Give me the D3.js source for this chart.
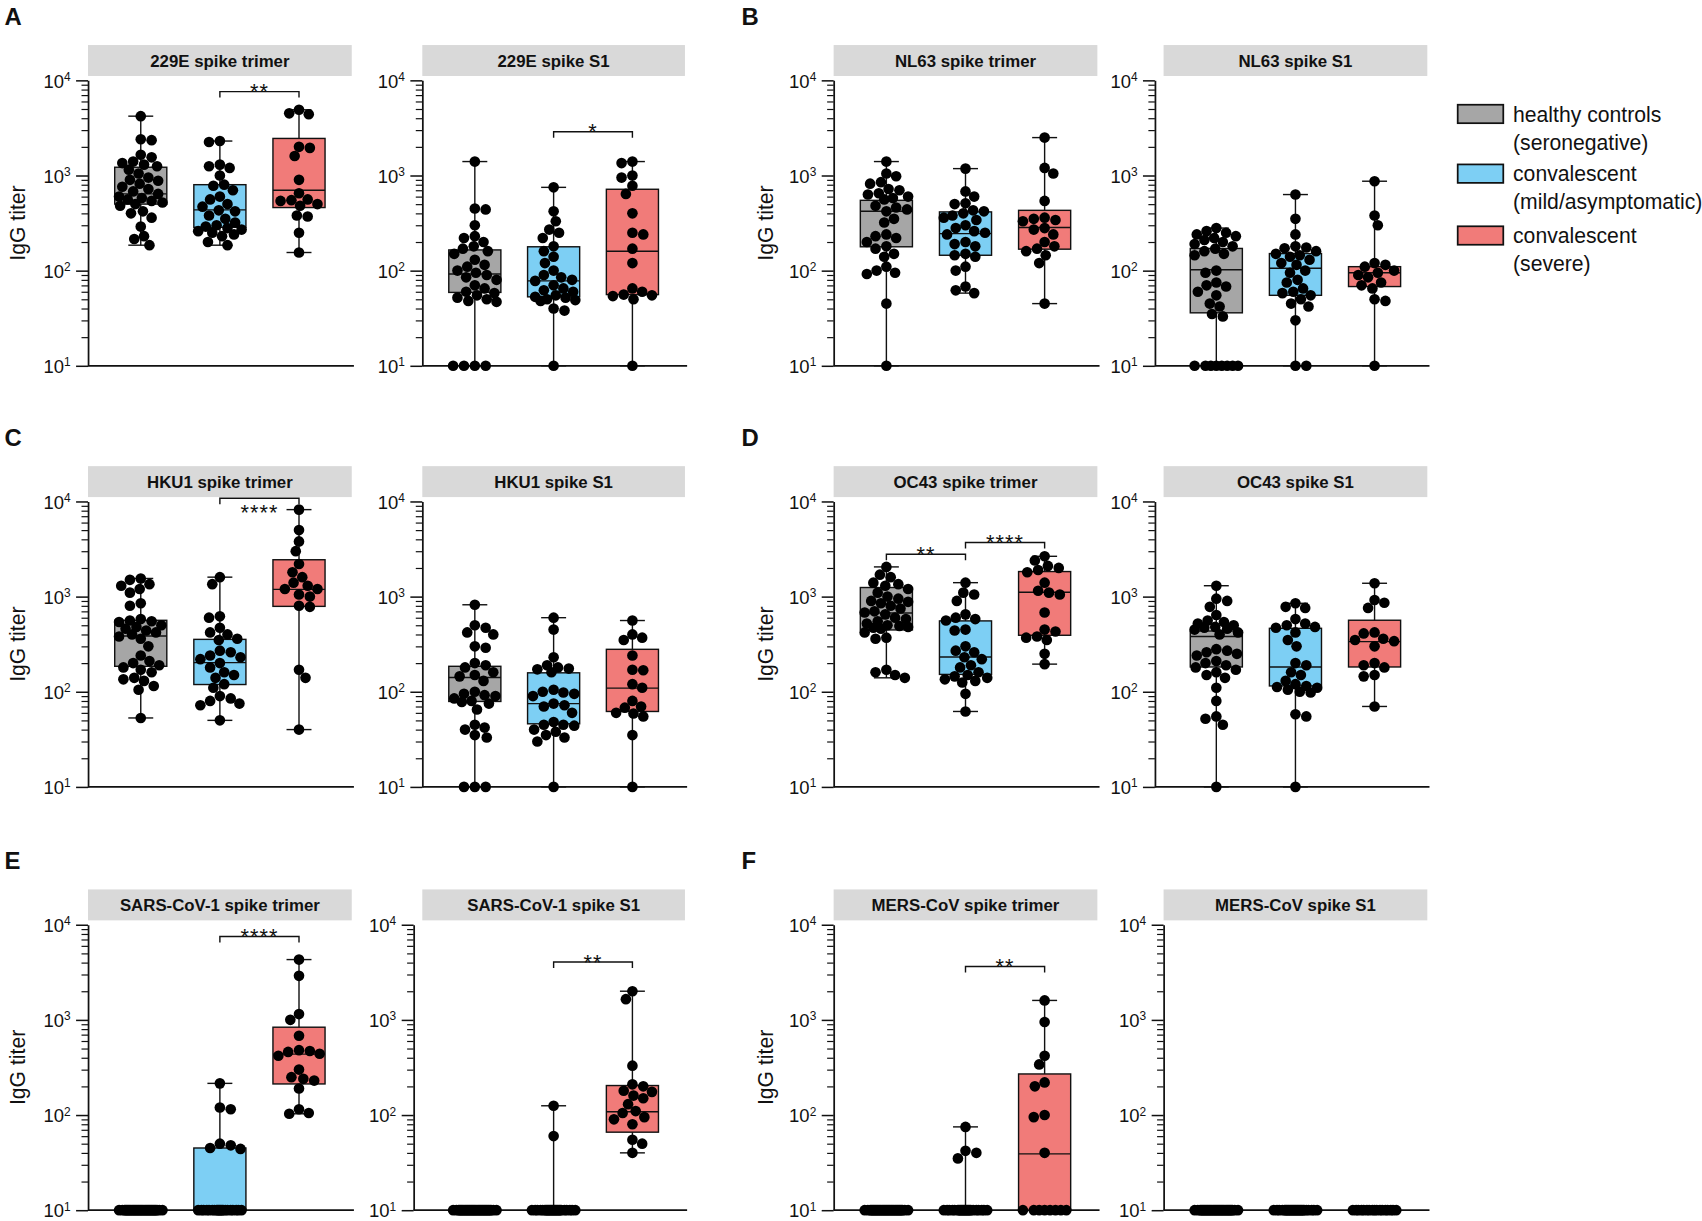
<!DOCTYPE html>
<html>
<head>
<meta charset="utf-8">
<script src="https://cdn.jsdelivr.net/npm/d3@7"></script>
<style>
  body { margin: 0; background: #fff; }
  svg { display: block; }
  text { font-family: "Liberation Sans", Arial, Helvetica, sans-serif; fill: #111; }
</style>
</head>
<body>
<div id="chart"></div>
<script>
// groups and legend
const groups = ["healthy", "mild", "severe"]
const legendLines = [["healthy controls", "(seronegative)"], ["convalescent", "(mild/asymptomatic)"], ["convalescent", "(severe)"]]
const groupColors = ["#a6a6a6", "#7dcff4", "#f17b79"]
const yTicks = [10, 100, 1000, 10000]
const yMinorTicks = [20, 30, 40, 50, 60, 70, 80, 90, 200, 300, 400, 500, 600, 700, 800, 900,
  2000, 3000, 4000, 5000, 6000, 7000, 8000, 9000]

// IgG titers per group: [healthy, mild, severe]; box = [q1, median, q3]
const trimer229E = [
  [4200, 2400, 2350, 1650, 1550, 1400, 1350, 1300, 1250, 1150, 1050, 950, 900, 880, 820, 760, 720, 680, 640, 600, 580, 560, 540, 520, 500, 480, 420, 400, 360, 290, 230, 215, 185],
  [2300, 2250, 1300, 1250, 1200, 1000, 800, 780, 700, 600, 560, 500, 470, 430, 420, 380, 350, 320, 300, 290, 280, 270, 260, 250, 240, 230, 200, 185],
  [4900, 4500, 4400, 2000, 1950, 1600, 900, 650, 560, 550, 540, 500, 480, 380, 370, 250, 155]
]
const trimer229EBox = [[500, 640, 1220], [285, 435, 800], [460, 700, 2450]]
const trimer229ESig = [[1, 2, 7600, "**"]]

const s1229E = [
  [1400, 450, 440, 300, 230, 220, 200, 180, 170, 160, 150, 130, 115, 110, 100, 95, 90, 85, 80, 70, 65, 60, 58, 55, 52, 50, 48, 47, 10, 10, 10, 10],
  [750, 420, 330, 270, 250, 220, 180, 160, 140, 120, 100, 90, 85, 80, 78, 70, 65, 62, 60, 55, 53, 52, 50, 49, 48, 40, 38, 10],
  [1400, 1350, 1000, 950, 780, 640, 400, 250, 240, 170, 120, 65, 60, 56, 55, 54, 50, 10]
]
const s1229EBox = [[59, 92, 165], [53, 78, 178], [56, 160, 716]]
const s1229ESig = [[1, 2, 2880, "*"]]

const trimerNL63 = [
  [1400, 1050, 980, 850, 820, 720, 700, 650, 630, 600, 580, 560, 480, 460, 440, 420, 350, 320, 240, 230, 220, 200, 180, 170, 150, 140, 110, 100, 95, 92, 45, 10],
  [1180, 680, 600, 510, 500, 430, 420, 400, 380, 360, 340, 300, 280, 260, 250, 240, 200, 190, 180, 150, 145, 140, 110, 100, 68, 62, 58],
  [2500, 1200, 1050, 540, 360, 350, 340, 330, 280, 270, 240, 200, 180, 170, 160, 145, 120, 45]
]
const trimerNL63Box = [[178, 421, 548], [145, 245, 414], [168, 284, 430]]

const s1NL63 = [
  [280, 260, 250, 240, 230, 220, 210, 200, 190, 180, 170, 160, 150, 145, 100, 95, 75, 70, 68, 60, 55, 45, 42, 35, 33, 10, 10, 10, 10, 10, 10, 10, 10],
  [630, 350, 240, 180, 175, 172, 160, 150, 145, 140, 130, 120, 115, 100, 95, 80, 75, 65, 60, 58, 55, 50, 45, 42, 30, 10, 10],
  [870, 380, 300, 120, 115, 110, 100, 95, 90, 85, 75, 70, 65, 50, 48, 10]
]
const s1NL63Box = [[36, 102, 171], [55, 106, 151], [68, 95, 110]]

const trimerHKU1 = [
  [1550, 1500, 1350, 1300, 1200, 1100, 850, 800, 580, 560, 550, 540, 500, 480, 460, 440, 420, 400, 380, 360, 300, 240, 210, 200, 190, 180, 170, 160, 140, 135, 130, 115, 105, 53],
  [1600, 1350, 620, 600, 470, 420, 400, 360, 350, 270, 260, 240, 230, 220, 200, 180, 160, 150, 140, 120, 110, 90, 85, 80, 75, 72, 50],
  [8200, 5000, 3800, 3000, 2200, 1800, 1600, 1400, 1300, 1200, 1200, 1050, 1000, 800, 780, 170, 140, 40]
]
const trimerHKU1Box = [[185, 385, 563], [119, 202, 355], [789, 1191, 2438]]
const trimerHKU1Sig = [[1, 2, 10800, "****", true]]

const s1HKU1 = [
  [820, 500, 470, 420, 400, 300, 290, 200, 190, 180, 160, 150, 145, 130, 100, 95, 92, 90, 85, 80, 78, 75, 65, 45, 42, 40, 35, 33, 10, 10, 10],
  [600, 450, 230, 190, 180, 175, 172, 160, 105, 100, 98, 95, 90, 75, 72, 70, 60, 48, 45, 45, 44, 40, 38, 35, 33, 30, 10],
  [560, 400, 370, 350, 240, 170, 168, 120, 110, 80, 70, 68, 60, 59, 55, 35, 10]
]
const s1HKU1Box = [[79, 141, 185], [46, 75, 158], [62, 109, 279]]

const trimerOC43 = [
  [2050, 1700, 1600, 1400, 1350, 1300, 1200, 1100, 1000, 950, 900, 880, 850, 800, 750, 700, 680, 650, 600, 580, 550, 520, 500, 490, 480, 470, 460, 420, 370, 360, 170, 160, 150, 140],
  [1400, 1100, 1050, 900, 650, 600, 580, 560, 450, 440, 300, 270, 260, 230, 220, 190, 180, 160, 150, 145, 140, 135, 130, 125, 95, 62],
  [2650, 2400, 2100, 2000, 1900, 1800, 1400, 1150, 1100, 1050, 680, 450, 430, 380, 370, 350, 250, 195]
]
const trimerOC43Box = [[446, 673, 1245], [152, 232, 555], [392, 1111, 1832]]
const trimerOC43Sig = [[0, 1, 2790, "**"], [1, 2, 3700, "****"]]

const s1OC43 = [
  [1300, 950, 900, 780, 640, 560, 540, 520, 500, 480, 470, 460, 450, 420, 400, 280, 270, 260, 250, 240, 210, 200, 190, 180, 170, 160, 150, 140, 110, 80, 55, 52, 45, 10],
  [850, 780, 760, 580, 520, 500, 480, 470, 420, 350, 300, 200, 190, 160, 150, 130, 120, 115, 112, 110, 105, 100, 98, 58, 55, 10],
  [1380, 920, 860, 760, 420, 410, 360, 350, 340, 300, 200, 190, 180, 150, 145, 70]
]
const s1OC43Box = [[182, 380, 435], [115, 182, 464], [182, 336, 564]]

const trimerSARS1 = [
  [10, 10, 10, 10, 10, 10, 10, 10, 10, 10, 10, 10, 10, 10, 10, 10, 10, 10, 10, 10, 10, 10, 10, 10, 10, 10, 10, 10, 10, 10, 10, 10, 10, 10, 10],
  [215, 120, 115, 50, 48, 45, 44, 10, 10, 10, 10, 10, 10, 10, 10, 10, 10, 10, 10, 10, 10, 10, 10, 10, 10, 10, 10, 10],
  [4300, 2900, 1150, 1000, 680, 480, 470, 460, 440, 420, 300, 250, 240, 230, 190, 115, 105, 103]
]
const trimerSARS1Box = [[10, 10, 10], [10, 10, 45], [212, 436, 837]]
const trimerSARS1Sig = [[1, 2, 7530, "****"]]

const s1SARS1 = [
  [10, 10, 10, 10, 10, 10, 10, 10, 10, 10, 10, 10, 10, 10, 10, 10, 10, 10, 10, 10, 10, 10, 10, 10, 10, 10, 10, 10, 10, 10, 10, 10, 10, 10, 10],
  [125, 60, 10, 10, 10, 10, 10, 10, 10, 10, 10, 10, 10, 10, 10, 10, 10, 10, 10, 10, 10, 10, 10, 10, 10, 10, 10, 10],
  [2000, 1650, 330, 210, 200, 180, 175, 160, 150, 130, 110, 105, 95, 90, 80, 55, 50, 40]
]
const s1SARS1Box = [[10, 10, 10], [10, 10, 10], [66, 108, 204]]
const s1SARS1Sig = [[1, 2, 4050, "**"]]

const trimerMERS = [
  [10, 10, 10, 10, 10, 10, 10, 10, 10, 10, 10, 10, 10, 10, 10, 10, 10, 10, 10, 10, 10, 10, 10, 10, 10, 10, 10, 10, 10, 10, 10, 10, 10, 10, 10],
  [75, 42, 40, 35, 10, 10, 10, 10, 10, 10, 10, 10, 10, 10, 10, 10, 10, 10, 10, 10, 10, 10, 10, 10, 10, 10, 10, 10],
  [1600, 950, 420, 340, 220, 200, 100, 95, 40, 10, 10, 10, 10, 10, 10, 10, 10]
]
const trimerMERSBox = [[10, 10, 10], [10, 10, 10], [10, 39, 270]]
const trimerMERSSig = [[1, 2, 3640, "**"]]

const s1MERS = [
  [10, 10, 10, 10, 10, 10, 10, 10, 10, 10, 10, 10, 10, 10, 10, 10, 10, 10, 10, 10, 10, 10, 10, 10, 10, 10, 10, 10, 10, 10, 10, 10, 10, 10, 10],
  [10, 10, 10, 10, 10, 10, 10, 10, 10, 10, 10, 10, 10, 10, 10, 10, 10, 10, 10, 10, 10, 10, 10, 10, 10, 10, 10, 10],
  [10, 10, 10, 10, 10, 10, 10, 10, 10, 10, 10, 10, 10, 10, 10, 10, 10]
]
const s1MERSBox = [[10, 10, 10], [10, 10, 10], [10, 10, 10]]

const panels = [
  { letter: "A", title: "229E spike trimer", pts: trimer229E, box: trimer229EBox, sig: trimer229ESig, row: 0, col: 0 },
  { title: "229E spike S1", pts: s1229E, box: s1229EBox, sig: s1229ESig, row: 0, col: 1 },
  { letter: "B", title: "NL63 spike trimer", pts: trimerNL63, box: trimerNL63Box, sig: [], row: 0, col: 2 },
  { title: "NL63 spike S1", pts: s1NL63, box: s1NL63Box, sig: [], row: 0, col: 3, shift: -8 },
  { letter: "C", title: "HKU1 spike trimer", pts: trimerHKU1, box: trimerHKU1Box, sig: trimerHKU1Sig, row: 1, col: 0 },
  { title: "HKU1 spike S1", pts: s1HKU1, box: s1HKU1Box, sig: [], row: 1, col: 1 },
  { letter: "D", title: "OC43 spike trimer", pts: trimerOC43, box: trimerOC43Box, sig: trimerOC43Sig, row: 1, col: 2 },
  { title: "OC43 spike S1", pts: s1OC43, box: s1OC43Box, sig: [], row: 1, col: 3, shift: -8 },
  { letter: "E", title: "SARS-CoV-1 spike trimer", pts: trimerSARS1, box: trimerSARS1Box, sig: trimerSARS1Sig, row: 2, col: 0 },
  { title: "SARS-CoV-1 spike S1", pts: s1SARS1, box: s1SARS1Box, sig: s1SARS1Sig, row: 2, col: 1, shift: -8 },
  { letter: "F", title: "MERS-CoV spike trimer", pts: trimerMERS, box: trimerMERSBox, sig: trimerMERSSig, row: 2, col: 2 },
  { title: "MERS-CoV spike S1", pts: s1MERS, box: s1MERSBox, sig: [], row: 2, col: 3 }
]

// layout (drawn in a 1568 x 1125 frame, scaled up to the window)
const W = 1568, H = 1125
const rowY = [[340, 77], [728, 465], [1118, 855]]
const colX = [[81, 324], [389, 631], [768, 1011], [1072, 1315]]
const titleX = [16, null, 705, null]
const letterX = [4, null, 683, null]
const dotR = 4.9
const boxW = 48
const capW = 23

const svg = d3.select("#chart").append("svg")
  .attr("width", 1702)
  .attr("height", 1221)
  .attr("viewBox", `0 3 ${W} ${H}`)

// simple beeswarm: each dot goes to the free spot nearest the centre
function swarm(values, y, maxHalf) {
  const d = dotR * 2 * 0.95
  const order = d3.range(values.length).sort((a, b) => values[b] - values[a])
  const placed = []
  const out = new Array(values.length)
  const cands = [0]
  for (let k = 1; k <= maxHalf; k++) cands.push(k, -k)
  order.forEach((i, n) => {
    const py = y(values[i])
    const near = placed.filter(p => Math.abs(p[1] - py) < d)
    let pick = null, best = -1, bestOff = 0
    for (const c0 of cands) {
      const c = n % 2 ? -c0 : c0
      let m = Infinity
      near.forEach(p => { m = Math.min(m, Math.hypot(p[0] - c, p[1] - py)) })
      if (m >= d) { pick = c; break }
      if (m > best + 0.01) { best = m; bestOff = c }
    }
    if (pick === null) pick = bestOff
    placed.push([pick, py])
    out[i] = pick
  })
  return out
}

function drawPanel(p) {
  const [x0, x1] = colX[p.col]
  const [yb, yt] = rowY[p.row]
  const ax = x0 + (p.shift || 0)
  const y = d3.scaleLog().domain([10, 10000]).range([yb, yt])
  const x = d3.scalePoint().domain(d3.range(groups.length)).range([x0, x1]).padding(2 / 3)
  const g = svg.append("g")

  // strip header
  g.append("rect")
    .attr("x", x0).attr("y", yt - 32.5)
    .attr("width", x1 - x0).attr("height", 28.5)
    .attr("fill", "#d9d9d9")
  g.append("text")
    .attr("x", (x0 + x1) / 2).attr("y", yt - 18.25)
    .attr("dy", "0.36em")
    .attr("text-anchor", "middle")
    .attr("font-size", 15.5).attr("font-weight", "bold")
    .text(p.title)

  // y axis
  g.append("g")
    .attr("transform", `translate(${ax},0)`)
    .call(d3.axisLeft(y).tickValues(yMinorTicks).tickSize(6).tickSizeOuter(0).tickFormat(""))
    .call(a => a.select(".domain").remove())
    .call(a => a.selectAll(".tick line").attr("stroke", "#111").attr("stroke-width", 1.1))
  g.append("g")
    .attr("transform", `translate(${ax},0)`)
    .call(d3.axisLeft(y).tickValues(yTicks).tickSize(11).tickSizeOuter(0).tickPadding(5).tickFormat(""))
    .call(a => a.select(".domain").attr("stroke", "#111").attr("stroke-width", 1.6))
    .call(a => a.selectAll(".tick line").attr("stroke", "#111").attr("stroke-width", 1.4))
    .call(a => {
      a.attr("font-family", null).attr("font-size", null)
      const t = a.selectAll(".tick text")
        .attr("font-size", 17).attr("fill", "#111").attr("dy", "0.36em")
        .text("10")
      t.append("tspan")
        .attr("dy", "-0.55em").attr("font-size", 11)
        .text(d => Math.round(Math.log10(d)))
    })

  // x axis baseline
  g.append("line")
    .attr("x1", ax).attr("x2", x1 + 2)
    .attr("y1", yb).attr("y2", yb)
    .attr("stroke", "#111").attr("stroke-width", 1.6)

  if (titleX[p.col] !== null) {
    g.append("text")
      .attr("transform", `translate(${titleX[p.col]},${(yb + yt) / 2}) rotate(-90)`)
      .attr("text-anchor", "middle").attr("dy", "0.35em")
      .attr("font-size", 19.5)
      .text("IgG titer")
    g.append("text")
      .attr("x", letterX[p.col]).attr("y", yt - 51)
      .attr("font-size", 22).attr("font-weight", "bold")
      .text(p.letter)
  }

  const stats = p.pts.map((v, i) => ({
    i, q1: p.box[i][0], med: p.box[i][1], q3: p.box[i][2],
    min: d3.min(v), max: d3.max(v)
  }))

  const bx = g.append("g").selectAll("g").data(stats).join("g")
  bx.append("line")
    .attr("x1", d => x(d.i)).attr("x2", d => x(d.i))
    .attr("y1", d => y(d.min)).attr("y2", d => y(d.max))
    .attr("stroke", "#111").attr("stroke-width", 1.3)
  bx.append("rect")
    .attr("x", d => x(d.i) - boxW / 2).attr("width", boxW)
    .attr("y", d => y(d.q3)).attr("height", d => y(d.q1) - y(d.q3))
    .attr("fill", d => groupColors[d.i])
    .attr("stroke", "#111").attr("stroke-width", 1.3)
  bx.append("line")
    .attr("x1", d => x(d.i) - boxW / 2).attr("x2", d => x(d.i) + boxW / 2)
    .attr("y1", d => y(d.med)).attr("y2", d => y(d.med))
    .attr("stroke", "#111").attr("stroke-width", 1.3)
  ;["min", "max"].forEach(k => {
    bx.append("line")
      .attr("x1", d => x(d.i) - capW / 2).attr("x2", d => x(d.i) + capW / 2)
      .attr("y1", d => y(d[k])).attr("y2", d => y(d[k]))
      .attr("stroke", "#111").attr("stroke-width", 1.3)
  })

  // dots
  p.pts.forEach((vals, gi) => {
    const off = swarm(vals, y, 20)
    g.append("g").selectAll("circle").data(vals).join("circle")
      .attr("cx", (d, j) => x(gi) + off[j])
      .attr("cy", d => y(d))
      .attr("r", dotR)
      .attr("fill", "#000")
  })

  // significance brackets
  p.sig.forEach(([a, b, v, label, below]) => {
    const ly = y(v)
    g.append("path")
      .attr("d", `M${x(a)},${ly + 5.5}V${ly}H${x(b)}V${ly + 5.5}`)
      .attr("fill", "none").attr("stroke", "#111").attr("stroke-width", 1.3)
    g.append("text")
      .attr("x", (x(a) + x(b)) / 2)
      .attr("y", below ? ly + 20 : ly + 7)
      .attr("text-anchor", "middle")
      .attr("font-size", 20).attr("letter-spacing", 1)
      .text(label)
  })
}

panels.forEach(drawPanel)

// legend
const legend = svg.append("g").attr("transform", "translate(1343,0)")
const legendMid = [108, 163, 220]
legendLines.forEach((lines, i) => {
  legend.append("rect")
    .attr("x", 0).attr("y", legendMid[i] - 8.5)
    .attr("width", 42).attr("height", 17)
    .attr("fill", groupColors[i]).attr("stroke", "#111").attr("stroke-width", 1.6)
  lines.forEach((t, k) => {
    legend.append("text")
      .attr("x", 51).attr("y", legendMid[i] + 7 + k * 26)
      .attr("font-size", 19.5)
      .text(t)
  })
})
</script>
</body>
</html>
